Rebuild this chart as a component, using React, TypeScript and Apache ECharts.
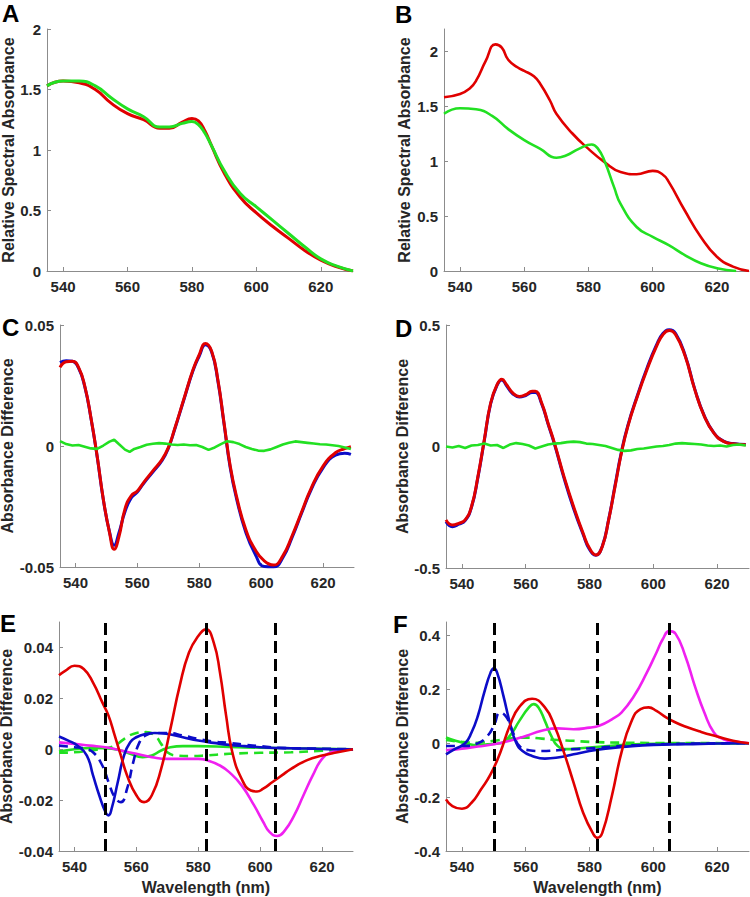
import React, { useEffect, useRef } from "react";
import * as echarts from "echarts";

// ---------- data (wavelength nm, value) ----------
const aRed = [[535,1.53],[540,1.57],[545,1.556],[550,1.5],[555,1.385],[560,1.3],[565,1.25],[570,1.18],[573,1.18],[577,1.23],[580,1.26],[582,1.24],[584,1.16],[586,1.04],[590,0.81],[595,0.61],[600,0.48],[605,0.37],[610,0.27],[615,0.17],[620,0.09],[625,0.035],[630,0]];
const aGreen = [[535,1.53],[540,1.57],[545,1.57],[550,1.53],[555,1.43],[560,1.34],[565,1.275],[570,1.19],[573,1.19],[577,1.22],[580,1.235],[582,1.21],[584,1.14],[586,1.04],[590,0.83],[595,0.64],[600,0.53],[605,0.42],[610,0.31],[615,0.2],[620,0.1],[625,0.04],[630,0]];

const bRed = [[535,1.58],[540,1.61],[543,1.66],[545,1.73],[548,1.91],[551,2.06],[553,2.03],[555,1.92],[558,1.85],[560,1.82],[563,1.77],[565,1.7],[568,1.55],[570,1.43],[575,1.25],[580,1.11],[585,0.99],[590,0.9],[595,0.88],[600,0.91],[603,0.88],[605,0.81],[610,0.55],[615,0.31],[620,0.13],[625,0.04],[630,0]];
const bGreen = [[535,1.43],[540,1.48],[545,1.47],[550,1.41],[555,1.29],[560,1.19],[565,1.11],[570,1.03],[573,1.05],[577,1.11],[581,1.15],[583,1.11],[585,1.0],[588,0.76],[590,0.61],[595,0.4],[600,0.31],[605,0.235],[610,0.145],[615,0.07],[620,0.025],[626,0]];

const cRed = [[535,0.0325],[537,0.0348],[539,0.035],[541,0.0325],[543,0.0248],[545,0.0117],[547,-0.0041],[549,-0.022],[551,-0.0358],[552.5,-0.0427],[554,-0.0378],[556,-0.026],[558,-0.0206],[560,-0.0186],[562,-0.0151],[565,-0.0103],[568,-0.0055],[570,-0.0007],[572,0.0069],[575,0.0193],[578,0.0316],[580,0.0378],[582,0.0424],[584,0.0392],[586,0.0275],[588,0.0096],[590,-0.0083],[592,-0.0206],[595,-0.0344],[598,-0.0427],[601,-0.0475],[604,-0.0492],[607,-0.0454],[610,-0.0371],[613,-0.0275],[616,-0.0179],[620,-0.0083],[624,-0.0028],[627,-0.0011],[629,-0.0003]];
const cBlue = [[535,0.0345],[537,0.0352],[539,0.035],[541,0.0322],[543,0.0245],[545,0.0115],[547,-0.0043],[549,-0.0222],[551,-0.0355],[552.5,-0.041],[554,-0.036],[556,-0.0272],[558,-0.0215],[560,-0.019],[562,-0.0155],[565,-0.0108],[568,-0.006],[570,-0.001],[572,0.0066],[575,0.019],[578,0.0312],[580,0.0372],[582,0.0418],[584,0.0388],[586,0.027],[588,0.0092],[590,-0.009],[592,-0.0215],[595,-0.0355],[598,-0.0445],[601,-0.0498],[604,-0.05],[607,-0.0462],[610,-0.0378],[613,-0.028],[616,-0.0185],[620,-0.009],[624,-0.0038],[627,-0.003],[629,-0.0035]];
const cGreen = [[535,0.002],[537,0.0008],[539,0.0002],[541,0.0004],[543,-0.0003],[545,-0.001],[547,-0.0012],[549,0.0002],[551,0.0018],[552.5,0.0026],[554,0.0008],[556,-0.0015],[557.5,-0.0024],[559,-0.0012],[561,-0.0004],[563,0.0005],[565,0.0009],[567,0.0012],[569,0.001],[571,0.0006],[573,0.0004],[575,0.0006],[577,0.0003],[579,0.0004],[581,-0.0004],[583,-0.0016],[585,-0.0006],[587,0.0008],[589,0.002],[591,0.0016],[593,0.0008],[595,-0.0004],[597,-0.0012],[599,-0.0019],[601,-0.002],[603,-0.0014],[605,-0.0004],[607,0.0006],[609,0.0013],[611,0.0019],[613,0.0016],[615,0.0013],[617,0.001],[619,0.0007],[621,0.0006],[623,0.0003],[625,0],[627,-0.0006],[629,-0.0012]];

const dRed = [[535,-0.302],[537,-0.323],[539,-0.316],[541,-0.302],[543,-0.247],[545,-0.124],[547,0.027],[549,0.179],[551,0.254],[552.5,0.277],[554,0.254],[556,0.22],[558,0.206],[560,0.213],[562,0.227],[563,0.227],[565,0.179],[567,0.096],[569,0.014],[572,-0.124],[575,-0.247],[578,-0.357],[580,-0.419],[582,-0.446],[584,-0.412],[586,-0.302],[588,-0.165],[590,-0.027],[592,0.082],[595,0.206],[598,0.316],[601,0.412],[603,0.46],[605,0.477],[607,0.46],[610,0.371],[613,0.234],[616,0.124],[619,0.055],[622,0.021],[625,0.011],[629,0.007]];
const dBlue = [[535,-0.31],[537,-0.33],[539,-0.32],[541,-0.305],[543,-0.25],[545,-0.128],[547,0.024],[549,0.176],[551,0.252],[552.5,0.274],[554,0.25],[556,0.216],[558,0.204],[560,0.21],[562,0.222],[563,0.222],[565,0.175],[567,0.092],[569,0.01],[572,-0.13],[575,-0.255],[578,-0.362],[580,-0.424],[582,-0.448],[584,-0.41],[586,-0.3],[588,-0.16],[590,-0.022],[592,0.086],[595,0.21],[598,0.322],[601,0.418],[603,0.465],[605,0.48],[607,0.465],[610,0.375],[613,0.236],[616,0.126],[619,0.056],[622,0.022],[625,0.012],[629,0.008]];
const dGreen = [[535,0],[537,-0.004],[539,0.002],[541,-0.006],[543,0.004],[545,0.006],[547,0.012],[549,0.004],[551,0.006],[553,-0.006],[555,0.008],[557,0.014],[559,0.01],[561,0.004],[563,-0.008],[565,0],[567,0.008],[569,0.012],[571,0.014],[573,0.018],[575,0.02],[577,0.018],[579,0.012],[581,0.01],[583,0.006],[585,0.002],[587,-0.006],[589,-0.014],[591,-0.018],[593,-0.016],[595,-0.01],[597,-0.008],[599,-0.004],[601,0],[603,0.002],[605,0.006],[607,0.012],[609,0.014],[611,0.012],[613,0.01],[615,0.008],[617,0.004],[619,0.002],[621,0.004],[623,0],[625,0.006],[627,0.008],[629,0.004]];

const eRed = [[535,0.0291],[537,0.0308],[540,0.0328],[543,0.0315],[546,0.0262],[549,0.0184],[551,0.0132],[553,0.0054],[555,-0.0025],[557,-0.0103],[560,-0.0181],[562.5,-0.0208],[565,-0.0181],[568,-0.0077],[571,0.008],[574,0.0249],[577,0.038],[580,0.0445],[582.5,0.0471],[585,0.0419],[587,0.0302],[589,0.0132],[591,-0.0012],[594,-0.0116],[597,-0.0162],[599,-0.0166],[601,-0.0155],[604,-0.0129],[607,-0.0103],[610,-0.0077],[615,-0.0044],[620,-0.0025],[625,-0.0012],[630,0]];
const eMagenta = [[535,0.0027],[540,0.0021],[545,0.0014],[550,0.0008],[555,-0.0005],[560,-0.0018],[565,-0.0031],[570,-0.0038],[575,-0.0038],[580,-0.0038],[583,-0.0044],[587,-0.0064],[590,-0.009],[594,-0.0142],[598,-0.022],[601,-0.0286],[603,-0.0325],[605.5,-0.0341],[608,-0.0319],[611,-0.026],[614,-0.0181],[617,-0.0103],[620,-0.0038],[623,-0.0012],[626,-0.0005],[630,0]];
const eBlue = [[535,0.005],[538,0.0034],[541,0.0014],[544,-0.0025],[546,-0.0103],[548,-0.0181],[550,-0.0247],[551,-0.026],[552,-0.0234],[554,-0.0129],[556,-0.0025],[558,0.0027],[560,0.0047],[563,0.006],[566,0.0064],[570,0.006],[575,0.0047],[580,0.0034],[585,0.0025],[590,0.0017],[595,0.0012],[600,0.0008],[605,0.0005],[610,0.0004],[620,0.0001],[630,0]];
const eBlueDash = [[535,0.0014],[540,0.0008],[543,0.0004],[546,-0.0012],[549,-0.0064],[551,-0.0129],[553,-0.0188],[555,-0.0208],[557,-0.0155],[559,-0.0051],[561,0.0027],[563,0.0054],[566,0.0064],[570,0.0064],[575,0.0054],[580,0.004],[585,0.003],[590,0.0025],[595,0.0018],[600,0.0012],[605,0.0006],[615,0.0003],[630,0]];
const eGreen = [[535,-0.0009],[540,0],[545,0.0005],[550,0.0004],[555,-0.0005],[558,-0.0018],[562,-0.0031],[565,-0.0025],[568,-0.0005],[571,0.0008],[575,0.0012],[580,0.0012],[590,0.0009],[600,0.0006],[610,0.0004],[630,0]];
const eGreenDash = [[535,-0.0014],[540,-0.0012],[545,-0.0005],[550,0.0004],[553,0.0014],[556,0.004],[559,0.006],[563,0.0067],[566,0.0054],[568,0.0021],[570,-0.0012],[573,-0.0025],[577,-0.0027],[582,-0.0025],[590,-0.0018],[600,-0.0014],[610,-0.0012],[620,-0.0006],[630,0]];

const fRed = [[535,-0.208],[537,-0.233],[540,-0.243],[543,-0.221],[546,-0.171],[549,-0.115],[552,-0.035],[555,0.065],[558,0.135],[562,0.165],[566,0.133],[569,0.065],[572,-0.035],[575,-0.146],[578,-0.258],[581,-0.333],[582.5,-0.351],[584,-0.333],[587,-0.196],[590,-0.035],[593,0.077],[596,0.127],[598.5,0.133],[601,0.12],[604,0.096],[607,0.077],[610,0.062],[615,0.042],[620,0.025],[625,0.009],[630,0]];
const fMagenta = [[535,-0.026],[540,-0.02],[545,-0.012],[550,-0.004],[555,0.009],[560,0.027],[565,0.046],[570,0.055],[575,0.052],[580,0.058],[583,0.065],[587,0.089],[590,0.114],[594,0.176],[598,0.263],[601,0.337],[603,0.387],[605,0.416],[607,0.406],[610,0.325],[613,0.213],[616,0.114],[619,0.04],[622,0.015],[626,0.005],[630,0]];
const fBlue = [[535,-0.041],[538,-0.02],[541,0],[543,0.04],[545,0.102],[547,0.189],[549,0.263],[550,0.278],[551,0.263],[553,0.176],[555,0.077],[557,0.002],[559,-0.029],[562,-0.047],[566,-0.057],[570,-0.053],[575,-0.041],[580,-0.029],[585,-0.02],[590,-0.014],[600,-0.006],[610,-0.004],[620,-0.001],[630,0]];
const fBlueDash = [[535,-0.01],[540,-0.01],[545,0],[548,0.027],[550,0.065],[552,0.114],[554,0.096],[556,0.04],[558,-0.01],[561,-0.026],[565,-0.029],[570,-0.026],[575,-0.022],[580,-0.019],[590,-0.01],[600,-0.005],[615,-0.001],[630,0]];
const fGreen = [[535,0.021],[538,0.009],[541,0],[545,-0.007],[548,-0.004],[552,0],[555,0.027],[558,0.083],[561,0.133],[562.5,0.145],[564,0.133],[566,0.083],[568,0.027],[570,-0.01],[573,-0.022],[576,-0.02],[580,-0.016],[590,-0.007],[600,-0.002],[630,0]];
const fGreenDash = [[535,0.012],[540,0.005],[545,0.002],[550,0.009],[555,0.017],[560,0.021],[565,0.017],[570,0.012],[575,0.009],[580,0.005],[590,0.002],[600,0.001],[630,0]];

const dashedWavelengths = [550, 582.5, 605];
const panelLetters = ["A", "B", "C", "D", "E", "F"];
const xRange = [535, 630];

const RED = "#e00000";
const GREEN = "#22e022";
const BLUE = "#0c0cc8";
const MAGENTA = "#f020f0";
const FONT = '"Liberation Sans", Arial, sans-serif';
const TXT = "#262626";
const AXIS = "#8c8c8c";

type P = {
  grid: any;
  y: { min: number; max: number; interval: number };
  yName: string;
  nameGap: number;
  xName?: string;
  letterPos: [number, number];
};

const panels: P[] = [
  { grid: { left: 47, top: 29, width: 306, height: 242 }, y: { min: 0, max: 2, interval: 0.5 }, yName: "Relative Spectral Absorbance", nameGap: 31, letterPos: [2, 1] },
  { grid: { left: 444, top: 29, width: 305, height: 242 }, y: { min: 0, max: 2.2, interval: 0.5 }, yName: "Relative Spectral Absorbance", nameGap: 33, letterPos: [395, 2] },
  { grid: { left: 60, top: 325, width: 294, height: 242 }, y: { min: -0.05, max: 0.05, interval: 0.05 }, yName: "Absorbance Difference", nameGap: 43, letterPos: [2, 315] },
  { grid: { left: 446, top: 325, width: 303, height: 243 }, y: { min: -0.5, max: 0.5, interval: 0.5 }, yName: "Absorbance Difference", nameGap: 37, letterPos: [395, 316] },
  { grid: { left: 59, top: 622, width: 294, height: 229 }, y: { min: -0.04, max: 0.05, interval: 0.02 }, yName: "Absorbance Difference", nameGap: 40, xName: "Wavelength (nm)", letterPos: [0, 611] },
  { grid: { left: 446, top: 622, width: 303, height: 229 }, y: { min: -0.4, max: 0.45, interval: 0.2 }, yName: "Absorbance Difference", nameGap: 37, xName: "Wavelength (nm)", letterPos: [393, 612] },
];

function line(idx: number, data: number[][], color: string, opts: any = {}) {
  return {
    type: "line",
    xAxisIndex: idx,
    yAxisIndex: idx,
    data,
    showSymbol: false,
    symbol: "none",
    smooth: opts.smooth ?? 0.5,
    z: opts.z ?? 2,
    lineStyle: { color, width: opts.width ?? 2.6, type: opts.dashed ? [9, 6] : "solid" },
    silent: true,
  };
}

function dashMarks(idx: number) {
  return {
    type: "line",
    xAxisIndex: idx,
    yAxisIndex: idx,
    data: [],
    z: 10,
    silent: true,
    markLine: {
      symbol: "none",
      silent: true,
      label: { show: false },
      lineStyle: { color: "#000", width: 3, type: [12, 6] },
      data: dashedWavelengths.map((w) => ({ xAxis: w })),
    },
  };
}

export default function App() {
  const ref = useRef<HTMLDivElement>(null);
  useEffect(() => {
    document.body.style.margin = "0";
    const chart = echarts.init(ref.current!, null, { renderer: "svg" });
    const grids = panels.map((p) => ({ ...p.grid, containLabel: false, outerBoundsMode: "none" }));
    const xAxis = panels.map((p, i) => ({
      type: "value",
      gridIndex: i,
      min: xRange[0],
      max: xRange[1],
      splitNumber: 5,
      name: p.xName || "",
      nameLocation: "middle",
      nameGap: 28,
      nameTextStyle: { color: TXT, fontSize: 16, fontWeight: "bold", fontFamily: FONT },
      axisLine: { show: true, onZero: false, lineStyle: { color: AXIS, width: 1 } },
      axisTick: { show: true, inside: true, length: 4, lineStyle: { color: AXIS } },
      splitLine: { show: false },
      axisLabel: {
        color: TXT, fontSize: 15, fontWeight: "bold", fontFamily: FONT, margin: 8,
        showMinLabel: false, showMaxLabel: false,
        formatter: (v: number) => (v % 20 === 0 ? String(v) : ""),
      },
    }));
    const yAxis = panels.map((p, i) => ({
      type: "value",
      gridIndex: i,
      min: p.y.min,
      max: p.y.max,
      interval: p.y.interval,
      name: p.yName,
      nameLocation: "middle",
      nameGap: p.nameGap,
      nameTextStyle: { color: TXT, fontSize: 16, fontWeight: "bold", fontFamily: FONT, lineHeight: 14 },
      axisLine: { show: true, onZero: false, lineStyle: { color: AXIS, width: 1 } },
      axisTick: { show: true, inside: true, length: 4, lineStyle: { color: AXIS } },
      splitLine: { show: false },
      axisLabel: {
        color: TXT, fontSize: 15, fontWeight: "bold", fontFamily: FONT, margin: 6,
        showMaxLabel: Math.abs(p.y.max / p.y.interval - Math.round(p.y.max / p.y.interval)) < 1e-9,
      },
    }));
    const series: any[] = [
      line(0, aRed, RED, { width: 3 }),
      line(0, aGreen, GREEN, { width: 3 }),
      line(1, bRed, RED, { width: 2.6 }),
      line(1, bGreen, GREEN, { width: 2.6 }),
      line(2, cBlue, BLUE, { width: 3 }),
      line(2, cRed, RED, { width: 3 }),
      line(2, cGreen, GREEN, { width: 2.6, smooth: false }),
      line(3, dBlue, BLUE, { width: 3 }),
      line(3, dRed, RED, { width: 3 }),
      line(3, dGreen, GREEN, { width: 2.6, smooth: false }),
      line(4, eGreenDash, GREEN, { dashed: true }),
      line(4, eGreen, GREEN),
      line(4, eMagenta, MAGENTA),
      line(4, eBlueDash, BLUE, { dashed: true }),
      line(4, eBlue, BLUE),
      line(4, eRed, RED),
      dashMarks(4),
      line(5, fGreenDash, GREEN, { dashed: true }),
      line(5, fGreen, GREEN),
      line(5, fMagenta, MAGENTA),
      line(5, fBlueDash, BLUE, { dashed: true }),
      line(5, fBlue, BLUE),
      line(5, fRed, RED),
      dashMarks(5),
    ];
    const graphic = panels.map((p, i) => ({
      type: "text",
      left: p.letterPos[0],
      top: p.letterPos[1],
      style: { text: panelLetters[i], fill: "#000", fontSize: 24, fontWeight: "bold", fontFamily: FONT },
    }));
    chart.setOption({
      animation: false,
      backgroundColor: "#fff",
      grid: grids,
      xAxis,
      yAxis,
      series,
      graphic,
    });
    return () => chart.dispose();
  }, []);
  return <div ref={ref} style={{ width: 750, height: 897 }} />;
}
